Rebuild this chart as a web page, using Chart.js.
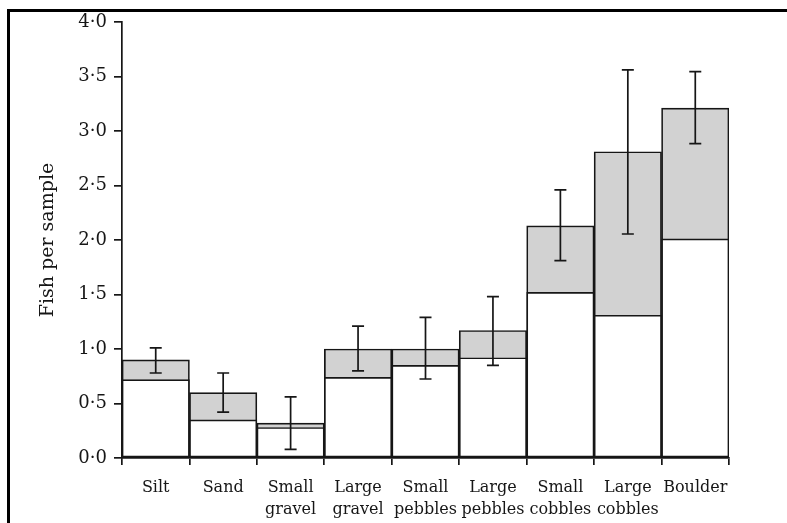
<!DOCTYPE html>
<html>
<head>
<meta charset="utf-8">
<script src="https://cdn.jsdelivr.net/npm/chart.js@4"></script>
<style>
  html, body { margin: 0; padding: 0; background: #fff; overflow: hidden; }
  #wrap { position: relative; width: 787px; height: 523px; }
  #frame { position: absolute; left: 7px; top: 9px; width: 900px; height: 700px;
           border-left: 3px solid #000; border-top: 3px solid #000; pointer-events: none; }
  canvas { position: absolute; left: 0; top: 0; }
</style>
</head>
<body>
<div id="wrap">
  <canvas id="c" width="787" height="523"></canvas>
  <div id="frame"></div>
</div>
<script>
const categories = [['Silt'], ['Sand'], ['Small', 'gravel'], ['Large', 'gravel'], ['Small', 'pebbles'],
                    ['Large', 'pebbles'], ['Small', 'cobbles'], ['Large', 'cobbles'], ['Boulder']];
// Lower (white) part of each bar
const lowerPart = [0.72, 0.35, 0.28, 0.74, 0.85, 0.92, 1.52, 1.31, 2.01];
// Total height of each bar (top of the grey part)
const totalHeight = [0.90, 0.60, 0.32, 1.00, 1.00, 1.17, 2.13, 2.81, 3.21];
// Error bar limits
const errorLow  = [0.78, 0.42, 0.08, 0.80, 0.725, 0.85, 1.81, 2.055, 2.885];
const errorHigh = [1.01, 0.78, 0.56, 1.21, 1.29, 1.48, 2.46, 3.56, 3.545];
const yTicks = [0, 0.5, 1, 1.5, 2, 2.5, 3, 3.5, 4];

const ink = '#161616';
const serif = "'DejaVu Serif', 'Liberation Serif', serif";

const errorBarPlugin = {
  id: 'errorBars',
  afterDatasetsDraw(chart) {
    const ctx = chart.ctx;
    const xs = chart.scales.x, ys = chart.scales.y;
    ctx.save();
    ctx.strokeStyle = ink;
    ctx.lineWidth = 1.7;
    for (let i = 0; i < categories.length; i++) {
      const x = xs.getPixelForValue(i);
      const y1 = ys.getPixelForValue(errorHigh[i]);
      const y2 = ys.getPixelForValue(errorLow[i]);
      const cap = 6;
      ctx.beginPath();
      ctx.moveTo(x, y1); ctx.lineTo(x, y2);
      ctx.moveTo(x - cap, y1); ctx.lineTo(x + cap, y1);
      ctx.moveTo(x - cap, y2); ctx.lineTo(x + cap, y2);
      ctx.stroke();
    }
    ctx.restore();
  }
};

new Chart(document.getElementById('c'), {
  type: 'bar',
  data: {
    labels: categories,
    datasets: [
      { label: 'lower', data: lowerPart, backgroundColor: '#ffffff', borderColor: ink,
        borderWidth: 1.7, borderSkipped: false, grouped: false,
        categoryPercentage: 1.0, barPercentage: 1.0 },
      { label: 'total', data: totalHeight, backgroundColor: '#d2d2d2', borderColor: ink,
        borderWidth: 1.7, borderSkipped: false, grouped: false,
        categoryPercentage: 1.0, barPercentage: 1.0 }
    ]
  },
  options: {
    responsive: false,
    animation: false,
    layout: { padding: { left: 0, right: 58, top: 22, bottom: 0 } },
    plugins: { legend: { display: false }, tooltip: { enabled: false } },
    scales: {
      x: {
        offset: true,
        grid: { display: true, offset: true, drawOnChartArea: false, drawTicks: true,
                tickLength: 7, color: ink, lineWidth: 1.7 },
        border: { display: true, color: ink, width: 1.7 },
        ticks: { color: ink, padding: 12, maxRotation: 0, autoSkip: false,
                 font: { family: serif, size: 16, lineHeight: 1.35 } },
        afterFit(s) { s.height = 65; }
      },
      y: {
        min: 0, max: 4,
        afterBuildTicks(s) { s.ticks = yTicks.map(v => ({ value: v })); },
        grid: { display: true, drawOnChartArea: false, drawTicks: true,
                tickLength: 8, color: ink, lineWidth: 1.7 },
        border: { display: true, color: ink, width: 1.7 },
        ticks: { color: ink, padding: 7,
                 font: { family: serif, size: 18 },
                 callback: v => Number(v).toFixed(1).replace('.', '\u00B7') },
        title: { display: true, text: 'Fish per sample', color: ink,
                 font: { family: serif, size: 19 }, padding: { top: 37, bottom: 0 } },
        afterFit(s) { s.width = 122; }
      }
    }
  },
  plugins: [errorBarPlugin]
});
</script>
</body>
</html>
